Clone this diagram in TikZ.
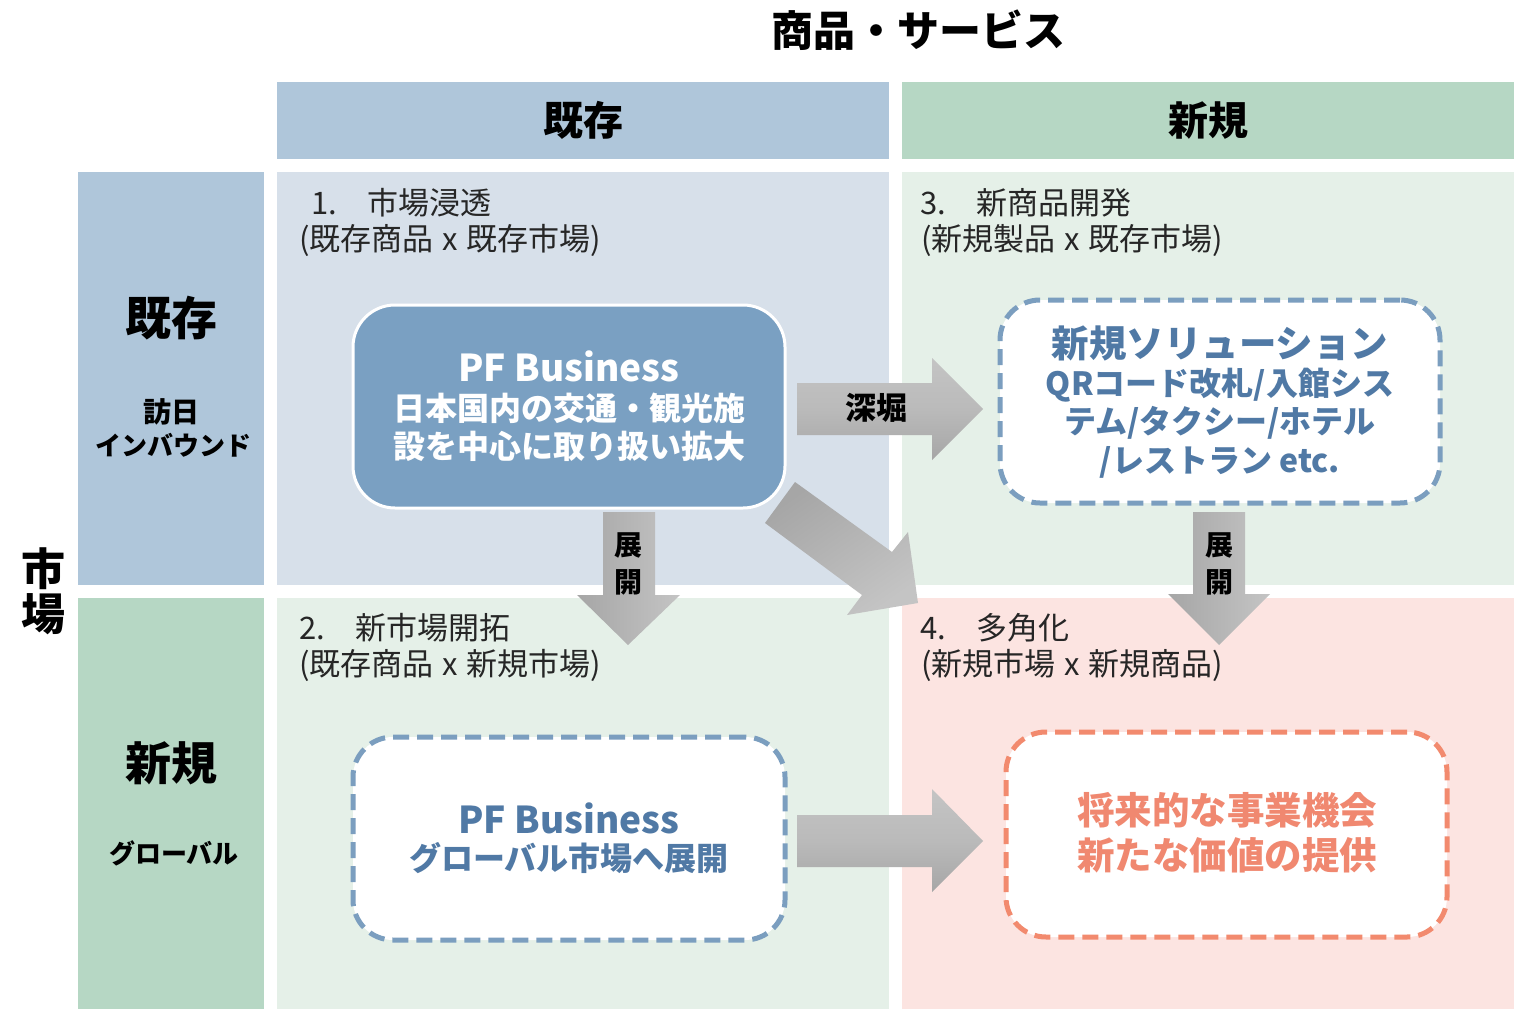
\documentclass[tikz,border=0pt]{standalone}
\usepackage{fontspec}
\setmainfont{Noto Sans CJK JP}
\usetikzlibrary{shapes.misc}
\definecolor{hdrblue}{HTML}{AFC6DA}
\definecolor{hdrgreen}{HTML}{B6D7C4}
\definecolor{qblue}{HTML}{D7E0EA}
\definecolor{qgreen}{HTML}{E5F0E8}
\definecolor{qpink}{HTML}{FCE4E1}
\definecolor{boxblue}{HTML}{7AA0C2}
\definecolor{dashblue}{HTML}{7B9EBF}
\definecolor{textblue}{HTML}{5079A5}
\definecolor{salmon}{HTML}{F28A6E}
\definecolor{salmontext}{HTML}{F08870}
\definecolor{lbltext}{HTML}{262626}
\definecolor{arrlight}{HTML}{C4C4C4}
\definecolor{arrdark}{HTML}{A6A6A6}
\newcommand\myfs[1]{\fontsize{#1}{#1}\selectfont}
\newcommand\xsep{\hspace{9pt}x\hspace{9pt}}
\begin{document}
\begin{tikzpicture}[x=1pt,y=-1pt,
  cell/.style={anchor=north west, inner sep=0pt, outer sep=0pt, draw=none},
  txt/.style={inner sep=0pt, outer sep=0pt, text=black},
  lbl/.style={inner sep=0pt, outer sep=0pt, anchor=west, text=lbltext, font=\myfs{31}},
  solidbox/.style={rectangle, rounded corners=42pt, inner sep=0pt, fill=boxblue, draw=white, line width=3pt},
  dashbox/.style={rectangle, rounded corners=40pt, inner sep=0pt, fill=white, line width=5pt, dash pattern=on 16pt off 8pt},
  blockarrow/.style={left color=arrdark, right color=arrlight},
  harrow/.style={top color=arrlight, bottom color=arrdark, middle color=arrlight!95!black}
]
\useasboundingbox (0,0) rectangle (1524,1009);
\fill[white] (0,0) rectangle (1524,1009);

% title
\node[txt, font=\myfs{42}\bfseries] (title) at (918,30) {商品・サービス};
\node[txt, font=\myfs{44}\bfseries] (ichi) at (43,569) {市};
\node[txt, font=\myfs{44}\bfseries] (ba) at (43,614) {場};

% header cells
\node[cell, fill=hdrblue, minimum width=612pt, minimum height=77pt, font=\myfs{40}\bfseries] (hA) at (277,82) {既存};
\node[cell, fill=hdrgreen, minimum width=612pt, minimum height=77pt, font=\myfs{40}\bfseries] (hB) at (902,82) {新規};

% left cells
\node[cell, fill=hdrblue, minimum width=186pt, minimum height=413pt] (lA) at (78,172) {};
\node[cell, fill=hdrgreen, minimum width=186pt, minimum height=411pt] (lB) at (78,598) {};
\node[txt, font=\myfs{46}\bfseries] (lAt) at (171,318) {既存};
\node[txt, font=\myfs{28}\bfseries] (lAs1) at (171,412) {訪日};
\node[txt, font=\myfs{26}\bfseries] (lAs2) at (173,445) {インバウンド};
\node[txt, font=\myfs{46}\bfseries] (lBt) at (171,763) {新規};
\node[txt, font=\myfs{26}\bfseries] (lBs) at (174,853) {グローバル};

% quadrants
\node[cell, fill=qblue, minimum width=612pt, minimum height=413pt] (q1) at (277,172) {};
\node[cell, fill=qgreen, minimum width=612pt, minimum height=413pt] (q3) at (902,172) {};
\node[cell, fill=qgreen, minimum width=612pt, minimum height=411pt] (q2) at (277,598) {};
\node[cell, fill=qpink, minimum width=612pt, minimum height=411pt] (q4) at (902,598) {};

% quadrant labels
\node[lbl] (q1a) at (311,203) {1.　市場浸透};
\node[lbl] (q1b) at (299,240) {(既存商品\xsep 既存市場)};
\node[lbl] (q3a) at (920,203) {3.　新商品開発};
\node[lbl] (q3b) at (921,240) {(新規製品\xsep 既存市場)};
\node[lbl] (q2a) at (299,628) {2.　新市場開拓};
\node[lbl] (q2b) at (299,665) {(既存商品\xsep 新規市場)};
\node[lbl] (q4a) at (920,628) {4.　多角化};
\node[lbl] (q4b) at (921,665) {(新規市場\xsep 新規商品)};

% boxes
\node[solidbox, minimum width=432pt, minimum height=203pt] (b1) at (569,406.5) {};
\node[txt, text=white, font=\myfs{37}\bfseries] (b1a) at (569,366) {PF Business};
\node[txt, text=white, font=\myfs{32}\bfseries] (b1b) at (569,408) {日本国内の交通・観光施};
\node[txt, text=white, font=\myfs{32}\bfseries] (b1c) at (569,446) {設を中心に取り扱い拡大};

\node[dashbox, draw=dashblue, minimum width=440pt, minimum height=203pt] (b3) at (1220,401.5) {};
\node[txt, text=textblue, font=\myfs{37.5}\bfseries] (b3a) at (1220,343) {新規ソリューション};
\node[txt, text=textblue, font=\myfs{32}\bfseries] (b3b) at (1220,385) {QRコード改札/入館シス};
\node[txt, text=textblue, font=\myfs{32}\bfseries] (b3c) at (1220,423) {テム/タクシー/ホテル};
\node[txt, text=textblue, font=\myfs{32}\bfseries] (b3d) at (1220,462) {/レストラン etc.};

\node[dashbox, draw=dashblue, minimum width=432pt, minimum height=203pt] (b2) at (569,838.5) {};
\node[txt, text=textblue, font=\myfs{37}\bfseries] (b2a) at (569,818) {PF Business};
\node[txt, text=textblue, font=\myfs{32}\bfseries] (b2b) at (569,858) {グローバル市場へ展開};

\node[dashbox, draw=salmon, minimum width=441pt, minimum height=205pt] (b4) at (1226.5,834.5) {};
\node[txt, text=salmontext, font=\myfs{37.5}\bfseries] (b4a) at (1227,810) {将来的な事業機会};
\node[txt, text=salmontext, font=\myfs{37.5}\bfseries] (b4b) at (1227,855) {新たな価値の提供};

% block arrows
\shade[harrow] (797,383) -- (932,383) -- (932,358) -- (983,409) -- (932,460) -- (932,435) -- (797,435) -- cycle;
\node[txt, font=\myfs{31}\bfseries] (fukabori) at (876,408) {深堀};

\shade[harrow] (797,815) -- (932,815) -- (932,789) -- (983,841) -- (932,892) -- (932,867) -- (797,867) -- cycle;

\shade[blockarrow] (603,512) -- (655,512) -- (655,595) -- (680,595) -- (628,645) -- (577,595) -- (603,595) -- cycle;
\node[txt, font=\myfs{28}\bfseries] (d1a) at (628,545) {展};
\node[txt, font=\myfs{28}\bfseries] (d1b) at (628,582) {開};

\shade[blockarrow] (1193,512) -- (1245,512) -- (1245,594) -- (1270,594) -- (1219,645) -- (1168,594) -- (1193,594) -- cycle;
\node[txt, font=\myfs{28}\bfseries] (d2a) at (1219,545) {展};
\node[txt, font=\myfs{28}\bfseries] (d2b) at (1219,582) {開};

\shade[blockarrow, shading angle=35] (795,482) -- (892,552) -- (908,532) -- (918,603) -- (847,615) -- (862,595) -- (765,523) -- cycle;
\end{tikzpicture}
\end{document}
